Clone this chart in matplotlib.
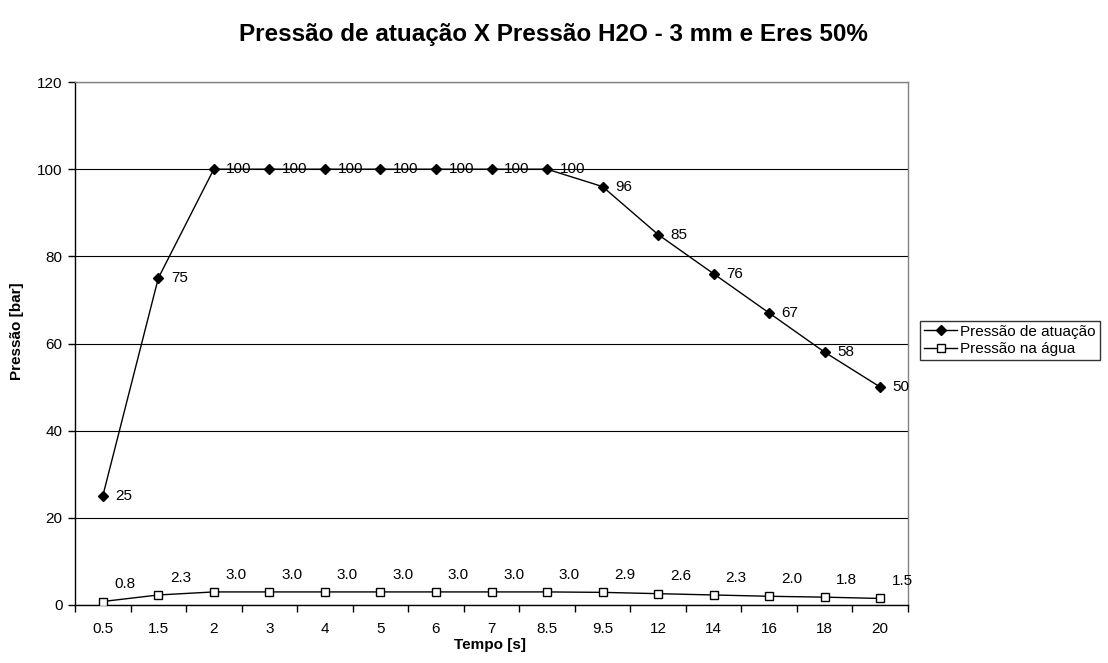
import matplotlib
matplotlib.use("Agg")
import matplotlib.pyplot as plt
import numpy as np

plt.rcParams['font.family'] = ['Liberation Sans', 'DejaVu Sans']

categories = ["0.5", "1.5", "2", "3", "4", "5", "6", "7", "8.5", "9.5", "12", "14", "16", "18", "20"]
pressao_atuacao = [25, 75, 100, 100, 100, 100, 100, 100, 100, 96, 85, 76, 67, 58, 50]
pressao_agua = [0.8, 2.3, 3.0, 3.0, 3.0, 3.0, 3.0, 3.0, 3.0, 2.9, 2.6, 2.3, 2.0, 1.8, 1.5]
y_ticks = [0, 20, 40, 60, 80, 100, 120]

W, H = 1108, 663
fig = plt.figure(figsize=(W / 100, H / 100), dpi=100)
ax = fig.add_axes([75 / W, 1 - 605 / H, (908 - 75) / W, (605 - 82) / H])

x = np.arange(len(categories))

ax.plot(x, pressao_atuacao, color='black', lw=1.0, marker='D', ms=5.5,
        mfc='black', mec='black', label='Pressão de atuação', zorder=3)
ax.plot(x, pressao_agua, color='black', lw=1.0, marker='s', ms=5.5,
        mfc='white', mec='black', mew=1.0, label='Pressão na água', zorder=3)

for xi, v in zip(x, pressao_atuacao):
    ax.annotate(f"{v:.0f}", (xi, v), xytext=(9, 0), textcoords='offset points',
                ha='left', va='center', fontsize=11, zorder=4)
for xi, v in zip(x, pressao_agua):
    ax.annotate(f"{v:.1f}", (xi, v), xytext=(16, 12.5), textcoords='offset points',
                ha='center', va='center', fontsize=11, zorder=4)

ax.set_xlim(-0.5, len(categories) - 0.5)
ax.set_ylim(0, 120)
ax.set_yticks(y_ticks)
ax.set_yticklabels([str(t) for t in y_ticks], fontsize=11)
ax.set_xticks(x)
ax.set_xticklabels(categories, fontsize=11)
ax.set_xticks(np.arange(-0.5, len(categories)), minor=True)
ax.tick_params(axis='x', which='major', length=0, pad=12)
ax.tick_params(axis='x', which='minor', length=5, width=1, color='black', direction='out')
ax.tick_params(axis='y', length=5, width=1, color='black', direction='out', pad=4)

ax.grid(axis='y', color='black', lw=0.8, zorder=0)
ax.set_axisbelow(True)
for s in ['left', 'bottom']:
    ax.spines[s].set_color('black')
    ax.spines[s].set_linewidth(1.0)
for s in ['top', 'right']:
    ax.spines[s].set_color('#808080')
    ax.spines[s].set_linewidth(1.0)

fig.text(17 / W, 1 - 331 / H, 'Pressão [bar]', rotation=90, ha='center', va='center',
         fontsize=11, fontweight='bold')
fig.text(490 / W, 1 - 645 / H, 'Tempo [s]', ha='center', va='center',
         fontsize=11, fontweight='bold')
fig.text(553 / W, 1 - 34 / H, 'Pressão de atuação X Pressão H2O - 3 mm e Eres 50%',
         ha='center', va='center', fontsize=17.5, fontweight='bold')

leg = fig.legend(loc='upper left', bbox_to_anchor=(920 / W, 1 - 321 / H),
                 fontsize=11, frameon=True, fancybox=False, edgecolor='black',
                 borderpad=0.25, labelspacing=0.2, handlelength=2.2, handletextpad=0.2,
                 borderaxespad=0)
leg.get_frame().set_linewidth(1.0)

fig.savefig('out.png', dpi=100, facecolor='white')
